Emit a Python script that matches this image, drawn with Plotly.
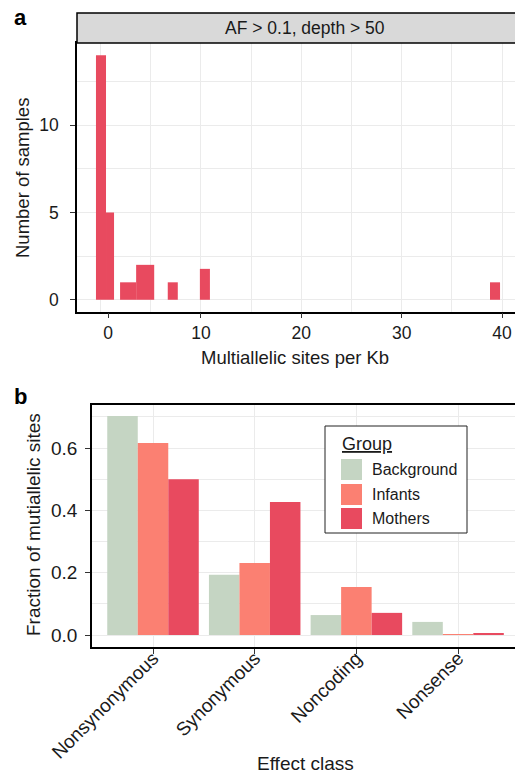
import plotly.graph_objects as go

W, H = 515, 775
FONT = "Liberation Sans, Arial, Helvetica, sans-serif"


def fx(x):
    return x / W


def fy(y):
    return 1 - y / H


# ---------------- data ----------------
# panel a: histogram bins (left edge, right edge, count)
hist_left = [-0.45, 0.55, 1.95, 3.55, 6.7, 9.9, 38.8]
hist_right = [0.55, 1.35, 3.55, 5.35, 7.7, 10.9, 39.8]
hist_count = [14, 5, 1, 2, 1, 1.77, 1]
hist_xticks = [0.75, 10, 20, 30, 40]
hist_xticklabels = ["0", "10", "20", "30", "40"]
strip_label = "AF > 0.1, depth > 50"

# panel b: fraction of multiallelic sites per effect class
categories = ["Nonsynonymous", "Synonymous", "Noncoding", "Nonsense"]
groups = ["Background", "Infants", "Mothers"]
background = [0.703, 0.193, 0.064, 0.042]
infants = [0.616, 0.231, 0.154, 0.0015]
mothers = [0.500, 0.427, 0.071, 0.004]

colors = {"Background": "#c5d5c3", "Infants": "#fb8072", "Mothers": "#e84a5f"}
GRID = "#ebebeb"
TXT = "#1a1a1a"

centers = [(l + r) / 2 for l, r in zip(hist_left, hist_right)]
widths = [r - l for l, r in zip(hist_left, hist_right)]

fig = go.Figure()

fig.add_trace(go.Bar(x=centers, y=hist_count, width=widths,
                     marker=dict(color=colors["Mothers"], line=dict(width=0)),
                     xaxis="x", yaxis="y", showlegend=False, hoverinfo="skip"))
# empty helper trace so the tick-label axis is drawn
fig.add_trace(go.Scatter(x=[], y=[], xaxis="x3", yaxis="y", showlegend=False))

for g, vals in zip(groups, [background, infants, mothers]):
    fig.add_trace(go.Bar(x=categories, y=vals, name=g,
                         marker=dict(color=colors[g], line=dict(width=0)),
                         xaxis="x2", yaxis="y2", showlegend=False))

top_dom = [fy(312), fy(43)]
bot_dom = [fy(647), fy(405)]

tickfont_a = dict(family=FONT, size=17.5, color=TXT)
tickfont_b = dict(family=FONT, size=19, color=TXT)

fig.update_layout(
    width=W, height=H,
    margin=dict(l=0, r=0, t=0, b=0, autoexpand=False),
    paper_bgcolor="white", plot_bgcolor="white",
    barmode="group", bargap=0.1, bargroupgap=0,
    font=dict(family=FONT, color=TXT),
    xaxis=dict(domain=[fx(77), 1], anchor="y", range=[-2.34, 41.29],
               automargin=False,
               tickmode="array", tickvals=[0, 5, 10, 15, 20, 25, 30, 35, 40],
               showticklabels=False, ticks="", showgrid=True, gridcolor=GRID,
               gridwidth=1, zeroline=False,
               showline=True, linecolor="black", linewidth=1.5, mirror=True),
    xaxis3=dict(overlaying="x", anchor="y", side="bottom", range=[-2.34, 41.29],
                automargin=False,
                tickmode="array", tickvals=hist_xticks, ticktext=hist_xticklabels,
                ticks="outside", ticklen=5, tickwidth=1.2, tickcolor="#333",
                tickfont=tickfont_a, showgrid=False, zeroline=False, showline=False),
    yaxis=dict(domain=top_dom, anchor="x", range=[-0.7, 14.7],
               automargin=False,
               tickmode="array", tickvals=[0, 5, 10],
               ticks="outside", ticklen=5, tickwidth=1.2, tickcolor="#333",
               tickfont=tickfont_a, ticklabelstandoff=8,
               showgrid=True, gridcolor=GRID, gridwidth=1, zeroline=False,
               minor=dict(tickvals=[2.5, 7.5, 12.5], showgrid=True,
                          gridcolor=GRID, gridwidth=1, ticks=""),
               showline=True, linecolor="black", linewidth=1.5),
    xaxis2=dict(domain=[fx(92), 1], anchor="y2", range=[-0.6, 3.56],
                automargin=False,
                type="category", categoryorder="array", categoryarray=categories,
                ticks="outside", ticklen=5, tickwidth=1.2, tickcolor="#333",
                tickangle=-45, tickfont=tickfont_b, ticklabelstandoff=-14,
                showgrid=True, gridcolor=GRID, gridwidth=1, zeroline=False,
                showline=True, linecolor="black", linewidth=1.5, mirror=True),
    yaxis2=dict(domain=bot_dom, anchor="x2", range=[-0.0385, 0.738],
                automargin=False,
                tickmode="array", tickvals=[0, 0.2, 0.4, 0.6],
                ticktext=["0.0", "0.2", "0.4", "0.6"],
                ticks="outside", ticklen=5, tickwidth=1.2, tickcolor="#333",
                tickfont=tickfont_b, ticklabelstandoff=4,
                showgrid=True, gridcolor=GRID, gridwidth=1, zeroline=False,
                minor=dict(tickvals=[0.1, 0.3, 0.5, 0.7], showgrid=True,
                           gridcolor=GRID, gridwidth=1, ticks=""),
                showline=True, linecolor="black", linewidth=1.5),
)

shapes = []
# facet strip
shapes.append(dict(type="rect", xref="paper", yref="paper",
                   x0=fx(77), x1=fx(540), y0=fy(43), y1=fy(13),
                   fillcolor="#d9d9d9", line=dict(color="black", width=1.5),
                   layer="above"))
# legend box
shapes.append(dict(type="rect", xref="paper", yref="paper",
                   x0=fx(325), x1=fx(467), y0=fy(533), y1=fy(426),
                   fillcolor="white", line=dict(color="#222", width=1),
                   layer="above"))
key_tops = [459, 484, 508]
for g, t in zip(groups, key_tops):
    shapes.append(dict(type="rect", xref="paper", yref="paper",
                       x0=fx(341), x1=fx(362), y0=fy(t + 21), y1=fy(t),
                       fillcolor=colors[g], line=dict(width=0), layer="above"))
fig.update_layout(shapes=shapes)

ann = []


def text(x, y, s, size, xanchor="center", yanchor="middle", angle=0, bold=False,
         underline=False):
    f = dict(family=FONT, size=size, color=TXT)
    if bold:
        f["weight"] = "bold"
        f["color"] = "black"
    if underline:
        f["lineposition"] = "under"
    ann.append(dict(x=fx(x), y=fy(y), xref="paper", yref="paper", text=s,
                    showarrow=False, font=f, xanchor=xanchor, yanchor=yanchor,
                    textangle=angle))


text(305, 28, strip_label, 17.5)
text(12, 17, "a", 22, xanchor="left", bold=True)
text(12, 396, "b", 22, xanchor="left", bold=True)
text(22, 178, "Number of samples", 18.5, angle=-90)
text(295, 357, "Multiallelic sites per Kb", 18.5)
text(33, 525, "Fraction of mutiallelic sites", 19, angle=-90)
text(305, 763, "Effect class", 19)
text(340, 444, "Group", 18, xanchor="left", underline=True)
for g, t in zip(groups, key_tops):
    text(370, t + 10.5, g, 16, xanchor="left")

fig.update_layout(annotations=ann)

fig.write_html(
    "out.html",
    config={"displayModeBar": False},
    post_script="document.body.style.margin='0';document.body.style.padding='0';",
)
